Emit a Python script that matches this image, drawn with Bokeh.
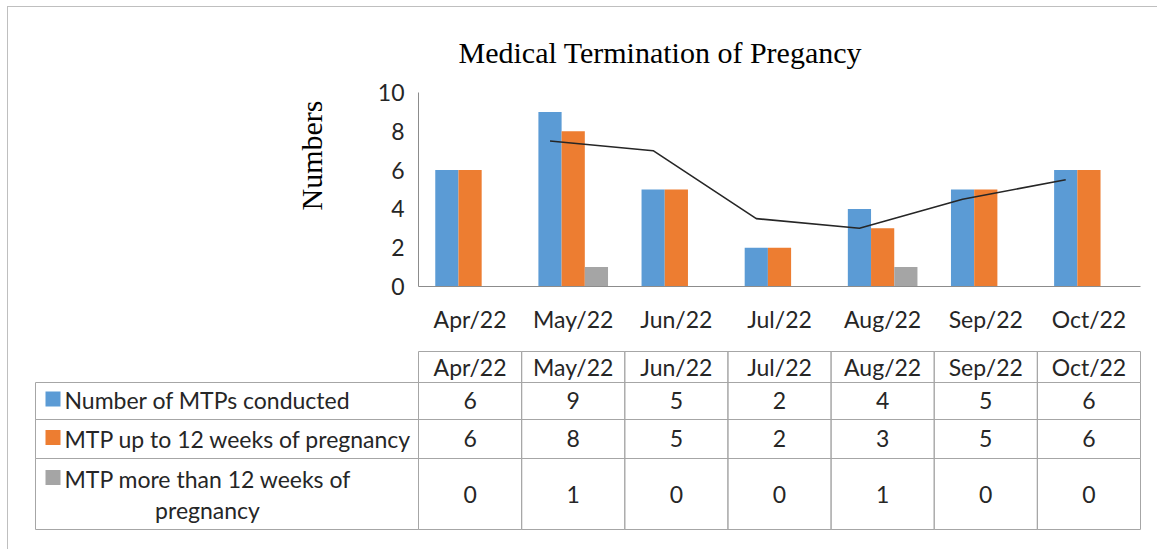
from bokeh.plotting import figure
from bokeh.models import Range1d, FactorRange, ColumnDataSource, FixedTicker, Title
from bokeh.transform import dodge
from bokeh.embed import file_html
from bokeh.resources import INLINE
from bokeh.core.properties import value

# ---------------- data ----------------
months = ["Apr/22", "May/22", "Jun/22", "Jul/22", "Aug/22", "Sep/22", "Oct/22"]
series_names = ["Number of MTPs conducted",
                "MTP up to 12 weeks of pregnancy",
                "MTP more than 12 weeks of pregnancy"]
mtp_total = [6, 9, 5, 2, 4, 5, 6]
mtp_upto12 = [6, 8, 5, 2, 3, 5, 6]
mtp_over12 = [0, 1, 0, 0, 1, 0, 0]
# 2-period moving-average trendline of "Number of MTPs conducted"
trend_months = ["May/22", "Jun/22", "Jul/22", "Aug/22", "Sep/22", "Oct/22"]
trend_values = [7.5, 7.0, 3.5, 3.0, 4.5, 5.5]
y_ticks = [0, 2, 4, 6, 8, 10]

# ---------------- style ----------------
colors = ["#5B9BD5", "#ED7D31", "#A5A5A5"]
SANS = "Lato"
SERIF = "Liberation Serif"
TXT = "#262626"
AXIS = "#8C8C8C"
GRIDC = "#A6A6A6"
BORDER = "1px solid #BFBFBF"
FS = "23px"

W = 1150
H1 = 338
H2 = 205
OX, OY_T = 8, 345          # canvas origin of the table figure on the page

# ---------------- chart ----------------
src = ColumnDataSource(dict(month=months, total=mtp_total, upto=mtp_upto12, over=mtp_over12))
p = figure(x_range=FactorRange(factors=months), y_range=Range1d(0, 10),
           width=W, height=H1, output_backend="svg", toolbar_location=None,
           min_border_left=410, min_border_right=18, min_border_top=85, min_border_bottom=59)
p.styles = {"margin-left": "7px", "margin-top": "6px", "border-left": BORDER, "border-top": BORDER}

bw = 0.225
for key, off, col in zip(["total", "upto", "over"], [-bw, 0.0, bw], colors):
    p.vbar(x=dodge("month", off, range=p.x_range), top=key, bottom=0, width=bw,
           source=src, fill_color=col, line_color=None)

tsrc = ColumnDataSource(dict(month=trend_months, val=trend_values))
p.line(x=dodge("month", -bw, range=p.x_range), y="val", source=tsrc,
       line_color="#262626", line_width=1.6)

p.title.text = "Medical Termination of Pregancy"
p.title.align = "left"
p.title.offset = 40
p.title.text_font = SERIF
p.title.text_font_size = "30px"
p.title.text_font_style = "normal"
p.title.text_color = "#000000"
p.title.standoff = 47

p.yaxis.ticker = FixedTicker(ticks=y_ticks)
p.yaxis.major_tick_line_color = None
p.yaxis.minor_tick_line_color = None
p.yaxis.axis_line_color = AXIS
p.yaxis.major_label_standoff = 8
p.xaxis.major_tick_line_color = None
p.xaxis.axis_line_color = AXIS
p.xaxis.major_label_standoff = 12
for ax in (p.xaxis, p.yaxis):
    ax.major_label_text_font = SANS
    ax.major_label_text_font_size = FS
    ax.major_label_text_color = TXT
p.xgrid.visible = False
p.ygrid.visible = False
p.outline_line_color = None

# vertical axis title, placed towards the top like Excel's
p.add_layout(Title(text="Numbers", align="right", offset=8, standoff=94,
                   text_font=SERIF, text_font_size="30px", text_font_style="normal",
                   text_color="#000000"), "left")

# ---------------- data table ----------------
t = figure(x_range=Range1d(OX, OX + W), y_range=Range1d(OY_T + H2, OY_T),
           width=W, height=H2, output_backend="svg", toolbar_location=None,
           min_border=0, x_axis_location=None, y_axis_location=None)
t.styles = {"margin-left": "7px", "border-left": BORDER}
t.xgrid.visible = False
t.ygrid.visible = False
t.outline_line_color = None

x0, x1, lab_left = 418, 1140, 35
cw = (x1 - x0) / len(months)
header_top, row_edges = 352, [383, 420, 459, 530]

L, R, T, B = [], [], [], []
for i in range(len(months)):
    L.append(x0 + i * cw); R.append(x0 + (i + 1) * cw); T.append(header_top); B.append(row_edges[0])
for r in range(3):
    L.append(lab_left); R.append(x0); T.append(row_edges[r]); B.append(row_edges[r + 1])
    for i in range(len(months)):
        L.append(x0 + i * cw); R.append(x0 + (i + 1) * cw); T.append(row_edges[r]); B.append(row_edges[r + 1])
t.quad(left=L, right=R, top=T, bottom=B, fill_color=None, line_color=GRIDC, line_width=1)

centers = [x0 + (i + 0.5) * cw for i in range(len(months))]
t.text(x=centers, y=[(header_top + row_edges[0]) / 2 - 0.5] * len(months), text=months,
       text_align="center", text_baseline="middle", text_font=value(SANS),
       text_font_size=FS, text_color=TXT)

row_mid = [(row_edges[r] + row_edges[r + 1]) / 2 for r in range(3)]
row_text_y = [row_mid[0] - 1, row_mid[1] - 0.5, row_mid[2]]
for r, vals in enumerate([mtp_total, mtp_upto12, mtp_over12]):
    t.text(x=centers, y=[row_text_y[r]] * len(vals), text=[str(v) for v in vals],
           text_align="center", text_baseline="middle", text_font=value(SANS),
           text_font_size=FS, text_color=TXT)

label_y = [row_text_y[0], row_text_y[1], row_edges[2] + 20]
first_lines = [series_names[0], series_names[1], series_names[2].rsplit(" ", 1)[0]]
t.text(x=[64] * 3, y=label_y, text=first_lines, text_align="left", text_baseline="middle",
       text_font=value(SANS), text_font_size=FS, text_color=TXT)
t.text(x=[207], y=[row_edges[2] + 51], text=[series_names[2].rsplit(" ", 1)[1]],
       text_align="center", text_baseline="middle", text_font=value(SANS),
       text_font_size=FS, text_color=TXT)
t.rect(x=[52.5] * 3, y=[y - 1 for y in label_y], width=15, height=15,
       fill_color=colors, line_color=None)

open("out.html", "w").write(file_html([p, t], INLINE))
